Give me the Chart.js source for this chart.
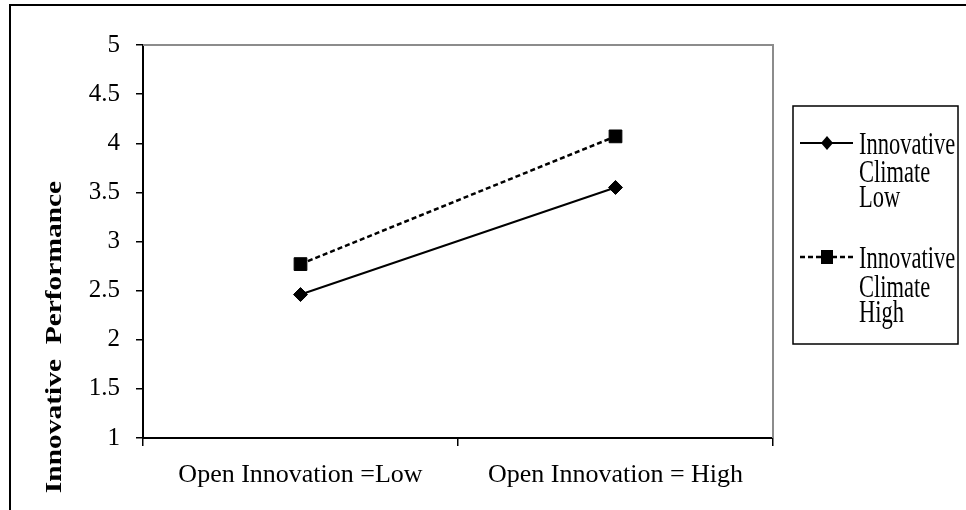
<!DOCTYPE html>
<html><head><meta charset="utf-8">
<script src="https://cdn.jsdelivr.net/npm/chart.js@4/dist/chart.umd.min.js"></script>
<style>html,body{margin:0;padding:0;background:#fff;}#wrap{width:966px;height:510px;position:relative;}</style>
</head><body><div id="wrap"><canvas id="c" width="966" height="510"></canvas></div>
<script>
const categories = ['Open Innovation =Low', 'Open Innovation = High'];
const seriesNames = ['Innovative Climate Low', 'Innovative Climate High'];
const climateLow = [2.46, 3.55];
const climateHigh = [2.77, 4.07];
const yTicks = [1, 1.5, 2, 2.5, 3, 3.5, 4, 4.5, 5];
const yTitle = 'Innovative  Performance';
const FONT = "'Liberation Serif', 'Times New Roman', serif";

const framePlugin = {
  id: 'frame',
  beforeDraw(chart) {
    const ctx = chart.ctx;
    ctx.save();
    ctx.fillStyle = '#fff';
    ctx.fillRect(0, 0, chart.width, chart.height);
    ctx.strokeStyle = '#000';
    ctx.lineWidth = 2;
    ctx.beginPath();
    ctx.moveTo(10, 510); ctx.lineTo(10, 5); ctx.lineTo(966, 5);
    ctx.stroke();
    ctx.restore();
  },
  beforeDatasetsDraw(chart) {
    const a = chart.chartArea, ctx = chart.ctx;
    ctx.save();
    ctx.strokeStyle = '#8c8c8c';
    ctx.lineWidth = 2;
    ctx.beginPath();
    ctx.moveTo(a.left, a.top); ctx.lineTo(a.right, a.top); ctx.lineTo(a.right, a.bottom);
    ctx.stroke();
    ctx.restore();
  },
  afterDraw(chart) {
    const ctx = chart.ctx;
    // y-axis title
    ctx.save();
    ctx.translate(55, 337);
    ctx.rotate(-Math.PI / 2);
    ctx.scale(1.28, 1);
    ctx.font = 'bold 23px ' + FONT;
    ctx.fillStyle = '#000';
    ctx.textAlign = 'center';
    ctx.textBaseline = 'middle';
    ctx.fillText(yTitle, 0, 0);
    ctx.restore();
    // legend
    ctx.save();
    ctx.strokeStyle = '#000';
    ctx.lineWidth = 1.5;
    ctx.strokeRect(793, 106, 165, 238);
    const entries = [
      {y: 143, base: [154, 182, 207]},
      {y: 257, base: [268, 297, 322]}
    ];
    chart.data.datasets.forEach((ds, i) => {
      const e = entries[i];
      ctx.strokeStyle = '#000';
      ctx.lineWidth = ds.borderWidth;
      ctx.setLineDash(ds.borderDash || []);
      ctx.beginPath(); ctx.moveTo(800, e.y); ctx.lineTo(853, e.y); ctx.stroke();
      ctx.setLineDash([]);
      ctx.fillStyle = '#000';
      ctx.beginPath();
      if (ds.pointStyle === 'rectRot') {
        const r = 6;
        ctx.moveTo(827 - r, e.y); ctx.lineTo(827, e.y - r - 1); ctx.lineTo(827 + r, e.y); ctx.lineTo(827, e.y + r + 1);
        ctx.closePath();
      } else {
        ctx.rect(821, e.y - 7, 12, 14);
      }
      ctx.fill();
      ctx.font = '22.5px ' + FONT;
      ctx.textAlign = 'left';
      ctx.textBaseline = 'alphabetic';
      ds.label.split(' ').forEach((w, k) => {
        ctx.save();
        ctx.translate(859, e.base[k]);
        ctx.scale(1, 1.38);
        ctx.fillText(w, 0, 0);
        ctx.restore();
      });
    });
    ctx.restore();
  }
};

new Chart(document.getElementById('c'), {
  type: 'line',
  data: {
    labels: categories,
    datasets: [
      {
        label: seriesNames[0], data: climateLow,
        borderColor: '#000', backgroundColor: '#000', borderWidth: 2,
        pointStyle: 'rectRot', pointRadius: 7, pointBorderWidth: 1,
        pointBackgroundColor: '#000', pointBorderColor: '#000', tension: 0
      },
      {
        label: seriesNames[1], data: climateHigh,
        borderColor: '#000', backgroundColor: '#000', borderWidth: 2.5, borderDash: [5, 3],
        pointStyle: 'rect', pointRadius: 9, pointBorderWidth: 1,
        pointBackgroundColor: '#000', pointBorderColor: '#000', tension: 0
      }
    ]
  },
  options: {
    responsive: false,
    animation: false,
    devicePixelRatio: 1,
    layout: {padding: {top: 45, right: 193, left: 0, bottom: 0}},
    plugins: {legend: {display: false}, tooltip: {enabled: false}, title: {display: false}},
    scales: {
      x: {
        type: 'category',
        offset: true,
        grid: {offset: true, drawOnChartArea: false, drawTicks: true, tickLength: 8, color: '#000', lineWidth: 1.5},
        border: {color: '#000', width: 2},
        ticks: {font: {family: FONT, size: 26}, color: '#000', padding: 14, maxRotation: 0},
        afterFit: s => { s.height = 72; }
      },
      y: {
        min: 1, max: 5,
        afterBuildTicks: s => { s.ticks = yTicks.map(v => ({value: v})); },
        grid: {drawOnChartArea: false, drawTicks: true, tickLength: 7, color: '#000', lineWidth: 1.5},
        border: {color: '#000', width: 2},
        ticks: {font: {family: FONT, size: 25}, color: '#000', padding: 16, callback: v => String(v)},
        afterFit: s => { s.width = 143; }
      }
    }
  },
  plugins: [framePlugin]
});
</script>
</body></html>
